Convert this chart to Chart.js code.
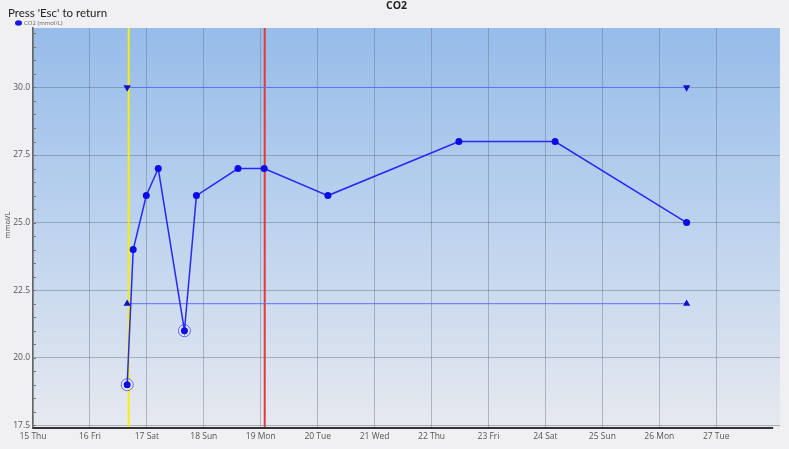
<!DOCTYPE html>
<html><head><meta charset="utf-8">
<script src="https://cdn.jsdelivr.net/npm/chart.js@4/dist/chart.umd.min.js"></script>
<style>html,body{margin:0;padding:0;background:#f0f0f2;}#wrap{width:789px;height:449px;position:relative}</style>
</head><body><div id="wrap"><canvas id="c" width="789" height="449"></canvas></div>
<script>
// ---- data ----
const dayTicks = [15,16,17,18,19,20,21,22,23,24,25,26,27];
const dayLabels = ["15 Thu","16 Fri","17 Sat","18 Sun","19 Mon","20 Tue","21 Wed","22 Thu","23 Fri","24 Sat","25 Sun","26 Mon","27 Tue"];
const sampleDays = [16.654, 16.76, 16.99, 17.20, 17.66, 17.87, 18.60, 19.06, 20.18, 22.48, 24.17, 26.48];
const co2Values  = [19, 24, 26, 27, 21, 26, 27, 27, 26, 28, 28, 25];
const flagged    = [1, 0, 0, 0, 1, 0, 0, 0, 0, 0, 0, 0];
const upperLimit = 30;
const lowerLimit = 22;
const yellowMarkerDay = 16.68;
const redMarkerDay = 19.07;
const yMajorTicks = [17.5, 20, 22.5, 25, 27.5, 30];
const chartTitle = "CO2";
const seriesLabel = "CO2 (mmol/L)";
const yAxisTitle = "mmol/L";
const headerText = "Press 'Esc' to return";

const FONT = "'Open Sans','Noto Sans',sans-serif";
const points = sampleDays.map((d,i)=>({x:d,y:co2Values[i]}));
const flaggedPts = points.filter((p,i)=>flagged[i]);
const firstDay = sampleDays[0], lastDay = sampleDays[sampleDays.length-1];

const decor = {
  id:'decor',
  beforeDraw(chart){
    const {ctx, chartArea:a} = chart;
    ctx.save();
    ctx.fillStyle = '#f0f0f2';
    ctx.fillRect(0,0,chart.width,chart.height);
    const g = ctx.createLinearGradient(0,a.top,0,a.bottom);
    g.addColorStop(0,'#96bce9');
    g.addColorStop(0.5,'#bdd3ee');
    g.addColorStop(1,'#e7e9ef');
    ctx.fillStyle = g;
    ctx.fillRect(a.left,a.top,a.right-a.left,a.bottom-a.top);
    ctx.restore();
  },
  beforeDatasetsDraw(chart){
    const {ctx, chartArea:a, scales:{x}} = chart;
    ctx.save();
    ctx.lineWidth = 2;
    ctx.strokeStyle = '#f5ee12';
    let px = x.getPixelForValue(yellowMarkerDay);
    ctx.beginPath(); ctx.moveTo(px,a.top); ctx.lineTo(px,a.bottom); ctx.stroke();
    ctx.strokeStyle = '#e43a3a';
    px = x.getPixelForValue(redMarkerDay);
    ctx.beginPath(); ctx.moveTo(px,a.top); ctx.lineTo(px,a.bottom); ctx.stroke();
    ctx.restore();
  },
  afterDraw(chart){
    const {ctx, chartArea:a, scales:{x,y}} = chart;
    ctx.save();
    // minor y ticks
    ctx.strokeStyle = '#777'; ctx.lineWidth = 1;
    for (let v = 17.5; v <= 32; v += 0.5) {
      const py = Math.round(y.getPixelForValue(v))+0.5;
      ctx.beginPath(); ctx.moveTo(a.left, py); ctx.lineTo(a.left+3, py); ctx.stroke();
    }
    // bottom axis line
    ctx.strokeStyle = '#333'; ctx.lineWidth = 2;
    ctx.beginPath(); ctx.moveTo(a.left, a.bottom); ctx.lineTo(x.getPixelForValue(28), a.bottom); ctx.stroke();
    // header
    ctx.fillStyle = '#222'; ctx.textBaseline = 'alphabetic'; ctx.textAlign = 'left';
    ctx.font = "11.5px Lato, 'Noto Sans', sans-serif";
    ctx.fillText(headerText, 8, 17);
    // title
    ctx.font = "bold 10.5px " + FONT; ctx.textAlign = 'center'; ctx.textBaseline='middle';
    ctx.fillText(chartTitle, chart.width/2+2, 6.5);
    // legend
    ctx.fillStyle = '#1818e0';
    ctx.beginPath(); ctx.ellipse(18.5, 23, 3.5, 2.8, 0, 0, Math.PI*2); ctx.fill();
    ctx.fillStyle = '#666'; ctx.textAlign='left'; ctx.font = "6px " + FONT;
    ctx.fillText(seriesLabel, 24, 23.5);
    // y axis title
    ctx.translate(8, 225); ctx.rotate(-Math.PI/2);
    ctx.fillStyle = '#444'; ctx.textAlign='center'; ctx.font = "7.5px " + FONT;
    ctx.fillText(yAxisTitle, 0, 0);
    ctx.restore();
  }
};

new Chart(document.getElementById('c'), {
  type: 'scatter',
  data: { datasets: [
    { label: seriesLabel, data: points, showLine: true, borderColor: 'rgb(40,40,240)', borderWidth: 1.5,
      pointRadius: 3.5, pointHoverRadius: 3.5, pointBackgroundColor: 'rgb(12,12,230)', pointBorderColor: 'rgb(12,12,230)', pointBorderWidth: 0, tension: 0, order: 0 },
    { label: 'flag', data: flaggedPts, showLine: false, pointRadius: 6, pointBorderColor: 'rgba(60,60,245,0.75)', pointBorderWidth: 1,
      pointBackgroundColor: 'rgba(255,255,255,0.3)', order: 1 },
    { label: 'upper', data: [{x:firstDay,y:upperLimit},{x:lastDay,y:upperLimit}], showLine: true, borderColor: 'rgb(95,115,250)', borderWidth: 1,
      pointStyle: 'triangle', rotation: 180, pointRadius: 4.2, pointBackgroundColor: '#1010d0', pointBorderColor: '#1010d0', pointBorderWidth: 0, order: 2 },
    { label: 'lower', data: [{x:firstDay,y:lowerLimit},{x:lastDay,y:lowerLimit}], showLine: true, borderColor: 'rgb(95,115,250)', borderWidth: 1,
      pointStyle: 'triangle', pointRadius: 4.2, pointBackgroundColor: '#1010d0', pointBorderColor: '#1010d0', pointBorderWidth: 0, order: 3 }
  ]},
  options: {
    responsive: false, animation: false, devicePixelRatio: 1,
    layout: { padding: { top: 28, right: 9, left: 0, bottom: 0 } },
    plugins: { legend: { display: false }, title: { display: false }, tooltip: { enabled: false } },
    scales: {
      x: { type: 'linear', min: 15, max: 28.12,
        afterBuildTicks: s => { s.ticks = dayTicks.map(v => ({value: v})); },
        afterFit: s => { s.height = 21; },
        ticks: { callback: v => dayLabels[dayTicks.indexOf(v)] ?? '', font: { size: 8.5, family: FONT }, color: '#555', maxRotation: 0, autoSkip: false, padding: 3 },
        grid: { color: 'rgba(85,100,120,0.38)', lineWidth: 1, drawTicks: false },
        border: { display: false } },
      y: { type: 'linear', min: 17.4, max: 32.2,
        afterBuildTicks: s => { s.ticks = yMajorTicks.map(v => ({value: v})); },
        afterFit: s => { s.width = 33; },
        ticks: { callback: v => v.toFixed(1), font: { size: 8.5, family: FONT }, color: '#555', padding: 3 },
        grid: { color: 'rgba(85,100,120,0.42)', lineWidth: 1, drawTicks: false },
        border: { display: true, color: '#666', width: 1.5 } }
    }
  },
  plugins: [decor]
});
</script>
</body></html>
